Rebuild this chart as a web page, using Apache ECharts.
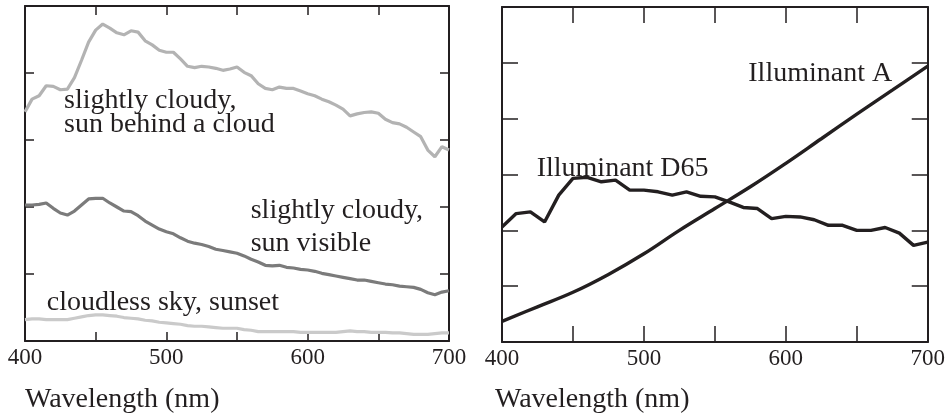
<!DOCTYPE html>
<html>
<head>
<meta charset="utf-8">
<script src="https://cdn.jsdelivr.net/npm/echarts@6/dist/echarts.min.js"></script>
<style>
html,body{margin:0;padding:0;background:#fff;}
#chart{width:948px;height:413px;}
</style>
</head>
<body>
<div id="chart"></div>
<script>
// ---- data ----
const wl5 = [400,405,410,415,420,425,430,435,440,445,450,455,460,465,470,475,480,485,490,495,500,505,510,515,520,525,530,535,540,545,550,555,560,565,570,575,580,585,590,595,600,605,610,615,620,625,630,635,640,645,650,655,660,665,670,675,680,685,690,695,700];
const sunBehindCloud = [3.42,3.61,3.66,3.81,3.80,3.75,3.76,3.93,4.19,4.46,4.64,4.73,4.67,4.60,4.57,4.63,4.61,4.48,4.42,4.34,4.31,4.31,4.21,4.10,4.08,4.10,4.09,4.07,4.04,4.06,4.09,4.01,3.96,3.84,3.77,3.75,3.79,3.77,3.77,3.73,3.69,3.66,3.61,3.57,3.52,3.46,3.36,3.39,3.41,3.42,3.40,3.31,3.26,3.24,3.19,3.12,3.05,2.85,2.75,2.90,2.85];
const sunVisible = [2.03,2.03,2.04,2.06,1.98,1.91,1.88,1.94,2.03,2.12,2.13,2.13,2.06,2.00,1.94,1.93,1.87,1.79,1.73,1.67,1.63,1.60,1.54,1.49,1.46,1.44,1.41,1.37,1.35,1.33,1.31,1.27,1.22,1.18,1.13,1.12,1.13,1.10,1.09,1.07,1.06,1.04,1.01,0.99,0.97,0.95,0.93,0.91,0.91,0.89,0.87,0.85,0.84,0.82,0.81,0.80,0.77,0.72,0.69,0.73,0.75];
const cloudlessSunset = [0.32,0.33,0.33,0.32,0.32,0.32,0.32,0.34,0.36,0.38,0.39,0.39,0.38,0.37,0.35,0.34,0.33,0.31,0.30,0.28,0.27,0.26,0.25,0.23,0.22,0.22,0.21,0.20,0.19,0.19,0.19,0.17,0.16,0.14,0.14,0.14,0.14,0.14,0.14,0.13,0.13,0.13,0.13,0.13,0.13,0.14,0.15,0.14,0.14,0.13,0.13,0.13,0.12,0.12,0.11,0.10,0.10,0.10,0.11,0.12,0.12];

const wl10 = [400,410,420,430,440,450,460,470,480,490,500,510,520,530,540,550,560,570,580,590,600,610,620,630,640,650,660,670,680,690,700];
const illumD65 = [2.06,2.30,2.33,2.15,2.63,2.93,2.95,2.87,2.90,2.72,2.72,2.69,2.63,2.69,2.61,2.60,2.51,2.41,2.39,2.21,2.25,2.24,2.19,2.09,2.09,2.00,2.00,2.05,1.95,1.73,1.79];

const wl25 = [400,425,450,475,500,525,550,575,600,625,650,675,700];
const illumA = [0.37,0.63,0.89,1.21,1.58,2.00,2.39,2.78,3.20,3.64,4.08,4.51,4.94];

const xTickLabels = [400,500,600,700];
const axisTitle = 'Wavelength (nm)';
const annotations = [
  {t:'slightly cloudy,', x:64, b:110},
  {t:'sun behind a cloud', x:64, b:134.5},
  {t:'slightly cloudy,', x:250.7, b:220.5},
  {t:'sun visible', x:250.7, b:253.5},
  {t:'cloudless sky, sunset', x:46.7, b:312},
  {t:'Illuminant D65', x:536.7, b:178.5},
  {t:'Illuminant A', x:748.3, b:83.5},
  {t:axisTitle, x:25, b:409},
  {t:axisTitle, x:495, b:409}
];

// ---- chart ----
const INK = '#231f20';
const pairs = (xs, ys) => xs.map((x, i) => [x, ys[i]]);
const chart = echarts.init(document.getElementById('chart'), null, {renderer:'canvas'});

function xAx(gi, pos, tickLen, showLabel){
  return {
    type:'value', gridIndex:gi, position:pos, min:400, max:700, interval:50,
    axisLine:{show:true, onZero:false, lineStyle:{color:INK, width:2}},
    axisTick:{show:true, inside:true, length:tickLen, lineStyle:{color:INK, width:1.5}},
    splitLine:{show:false},
    axisLabel:{show:showLabel, margin:5, color:INK, fontSize:23, fontFamily:'Liberation Serif',
      formatter: v => xTickLabels.indexOf(v) >= 0 ? String(v) : ''}
  };
}
function yAx(gi, pos, max, tickLen){
  return {
    type:'value', gridIndex:gi, position:pos, min:0, max:max, interval:1,
    axisLine:{show:true, onZero:false, lineStyle:{color:INK, width:2}},
    axisTick:{show:true, inside:true, length:tickLen, lineStyle:{color:INK, width:1.5}},
    splitLine:{show:false},
    axisLabel:{show:false}
  };
}

const FS = 28;
const graphics = annotations.map(a => ({
  type:'text', z:100,
  style:{text:a.t, x:a.x, y:a.b - 0.3375*FS, font: FS + 'px "Liberation Serif"', fill:INK,
    align:'left', verticalAlign:'middle'}
}));

const lineSeries = (name, xi, yi, data, color, width, smooth) => ({
  name, type:'line', xAxisIndex:xi, yAxisIndex:yi, data, showSymbol:false, symbol:'none',
  smooth: smooth || false, animation:false,
  lineStyle:{color, width}, z:5
});

chart.setOption({
  animation:false,
  backgroundColor:'#fff',
  grid:[
    {left:25, top:6, width:424, height:335},
    {left:502, top:7, width:426, height:335}
  ],
  xAxis:[xAx(0,'bottom',9,true), xAx(0,'top',9,false), xAx(1,'bottom',16,true), xAx(1,'top',16,false)],
  yAxis:[yAx(0,'left',5,9), yAx(0,'right',5,9), yAx(1,'left',6,16), yAx(1,'right',6,16)],
  series:[
    lineSeries('sun behind a cloud', 0, 0, pairs(wl5, sunBehindCloud), '#b3b3b3', 3.2),
    lineSeries('sun visible', 0, 0, pairs(wl5, sunVisible), '#7b7b7b', 3.2),
    lineSeries('cloudless sky, sunset', 0, 0, pairs(wl5, cloudlessSunset), '#cacaca', 3.2),
    lineSeries('Illuminant D65', 2, 2, pairs(wl10, illumD65), INK, 3.4),
    lineSeries('Illuminant A', 2, 2, pairs(wl25, illumA), INK, 3.4, 0.4)
  ],
  graphic: graphics
});
</script>
</body>
</html>
